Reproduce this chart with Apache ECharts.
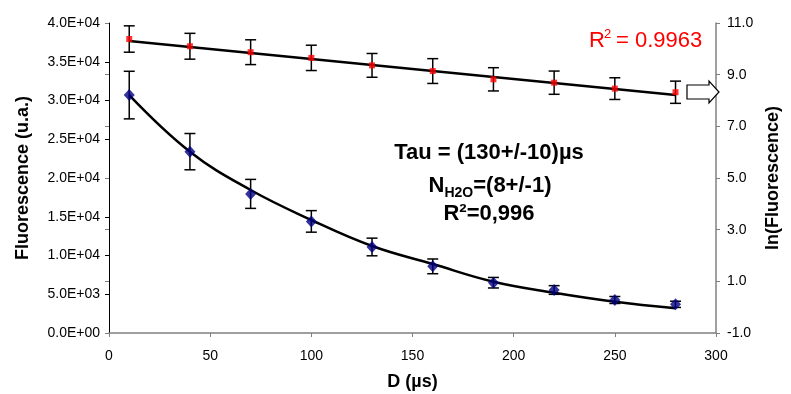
<!DOCTYPE html>
<html>
<head>
<meta charset="utf-8">
<script src="https://cdn.jsdelivr.net/npm/echarts@6/dist/echarts.min.js"></script>
<style>html,body{margin:0;padding:0;background:#fff;}#c{width:791px;height:394px;}</style>
</head>
<body>
<div id="c"></div>
<script>
// ---- data ----
const delays = [10, 40, 70, 100, 130, 160, 190, 220, 250, 280];           // D (µs)
const fluo = [30700, 23400, 17950, 14400, 11100, 8600, 6490, 5550, 4260, 3700];
const fluoErr = [3070, 2340, 1870, 1390, 1140, 950, 680, 560, 450, 400];
const fluoFit = [30700, 23400, 18450, 14580, 11225, 8900, 6620, 5200, 4040, 3190];
const lnFluo = [10.38, 10.10, 9.87, 9.65, 9.36, 9.14, 8.82, 8.69, 8.46, 8.32];
const lnErr = [0.51, 0.50, 0.48, 0.49, 0.46, 0.48, 0.45, 0.45, 0.42, 0.43];
const lnFitX = [10, 280];
const lnFit = [10.30, 8.21];
const xTicks = {min: 0, max: 300, interval: 50};
const leftTicks = {min: 0, max: 40000, interval: 5000};
const rightTicks = {min: -1, max: 11, interval: 2};

const FONT = '"Liberation Sans", Arial, sans-serif';

function sci(v) {
  if (v === 0) return '0.0E+00';
  const e = Math.floor(Math.log10(Math.abs(v)) + 1e-9);
  const m = v / Math.pow(10, e);
  const es = (e < 0 ? '-' : '+') + String(Math.abs(e)).padStart(2, '0');
  return m.toFixed(1) + 'E' + es;
}

function errorBarRenderer(cap) {
  return function (params, api) {
    const x = api.value(0), y = api.value(1), e = api.value(2);
    const top = api.coord([x, y + e]);
    const bot = api.coord([x, y - e]);
    const st = {stroke: '#000', lineWidth: 1.5};
    return {
      type: 'group',
      children: [
        {type: 'line', shape: {x1: top[0], y1: top[1], x2: bot[0], y2: bot[1]}, style: st},
        {type: 'line', shape: {x1: top[0] - cap, y1: top[1], x2: top[0] + cap, y2: top[1]}, style: st},
        {type: 'line', shape: {x1: bot[0] - cap, y1: bot[1], x2: bot[0] + cap, y2: bot[1]}, style: st}
      ]
    };
  };
}

const fluoPts = delays.map((d, i) => [d, fluo[i]]);
const fluoErrPts = delays.map((d, i) => [d, fluo[i], fluoErr[i]]);
const fluoFitPts = delays.map((d, i) => [d, fluoFit[i]]);
const lnPts = delays.map((d, i) => [d, lnFluo[i]]);
const lnErrPts = delays.map((d, i) => [d, lnFluo[i], lnErr[i]]);
const lnFitPts = lnFitX.map((d, i) => [d, lnFit[i]]);

const chart = echarts.init(document.getElementById('c'), null, {renderer: 'canvas'});
chart.setOption({
  animation: false,
  backgroundColor: '#fff',
  textStyle: {fontFamily: FONT},
  grid: {left: 109, right: 75, top: 23, bottom: 61, containLabel: false, outerBoundsMode: 'none'},
  xAxis: {
    type: 'value', min: xTicks.min, max: xTicks.max, interval: xTicks.interval,
    name: 'D (µs)', nameLocation: 'middle', nameGap: 40,
    nameTextStyle: {fontFamily: FONT, fontSize: 18, fontWeight: 'bold', color: '#000'},
    axisLine: {show: true, onZero: false, lineStyle: {color: '#808080', width: 1.5}},
    axisTick: {show: true, inside: false, length: 4, lineStyle: {color: '#808080'}},
    axisLabel: {fontFamily: FONT, fontSize: 14, color: '#000', margin: 16},
    splitLine: {show: false}
  },
  yAxis: [
    {
      type: 'value', position: 'left', min: leftTicks.min, max: leftTicks.max, interval: leftTicks.interval,
      name: 'Fluorescence (u.a.)', nameLocation: 'middle', nameGap: 77, nameRotate: 90,
      nameTextStyle: {fontFamily: FONT, fontSize: 18, fontWeight: 'bold', color: '#000'},
      axisLine: {show: true, onZero: false, lineStyle: {color: '#000', width: 1}},
      axisTick: {show: true, inside: false, length: 4, lineStyle: {color: '#000'}},
      axisLabel: {fontFamily: FONT, fontSize: 14, color: '#000', margin: 9, formatter: sci},
      splitLine: {show: false}
    },
    {
      type: 'value', position: 'right', min: rightTicks.min, max: rightTicks.max, interval: rightTicks.interval,
      name: 'ln(Fluorescence)', nameLocation: 'middle', nameGap: 38, nameRotate: 90,
      nameTextStyle: {fontFamily: FONT, fontSize: 18, fontWeight: 'bold', color: '#000'},
      axisLine: {show: true, onZero: false, lineStyle: {color: '#808080', width: 1.5}},
      axisTick: {show: true, inside: false, length: 4, lineStyle: {color: '#808080'}},
      axisLabel: {fontFamily: FONT, fontSize: 14, color: '#000', margin: 11, formatter: v => v.toFixed(1)},
      splitLine: {show: false}
    },
    {
      type: 'value', position: 'right', min: rightTicks.min, max: rightTicks.max, interval: rightTicks.interval,
      axisLine: {show: false}, axisLabel: {show: false},
      axisTick: {show: true, inside: true, length: 4, lineStyle: {color: '#808080'}},
      splitLine: {show: false}
    }
  ],
  series: [
    {
      type: 'line', yAxisIndex: 0, data: fluoFitPts, smooth: 0.4, showSymbol: false, symbol: 'none',
      lineStyle: {color: '#000', width: 2.5}, z: 2
    },
    {
      type: 'line', yAxisIndex: 1, data: lnFitPts, showSymbol: false, symbol: 'none',
      lineStyle: {color: '#000', width: 2.5}, z: 2
    },
    {
      type: 'custom', yAxisIndex: 0, data: fluoErrPts, renderItem: errorBarRenderer(5.5), z: 3
    },
    {
      type: 'custom', yAxisIndex: 1, data: lnErrPts, renderItem: errorBarRenderer(5.5), z: 3
    },
    {
      type: 'scatter', yAxisIndex: 0, data: fluoPts, symbol: 'diamond', symbolSize: [11, 12],
      itemStyle: {color: '#000080'}, z: 4
    },
    {
      type: 'scatter', yAxisIndex: 1, data: lnPts, symbol: 'rect', symbolSize: 6,
      itemStyle: {color: '#ff0000'}, z: 4
    }
  ],
  graphic: [
    {type: 'text', left: 589, top: 30, style: {text: 'R', font: '22px ' + FONT, fill: '#ff0000'}},
    {type: 'text', left: 604, top: 28, style: {text: '2', font: '13px ' + FONT, fill: '#ff0000'}},
    {type: 'text', left: 616, top: 30, style: {text: '= 0.9963', font: '22px ' + FONT, fill: '#ff0000'}},
    {type: 'text', x: 489, y: 164, style: {text: 'Tau = (130+/-10)µs', font: 'bold 22px ' + FONT, fill: '#000', align: 'center', verticalAlign: 'bottom'}},
    {type: 'text', x: 490, y: 197, style: {
      text: '{b|N}{s|H2O}{b|=(8+/-1)}', align: 'center', verticalAlign: 'bottom',
      rich: {
        b: {font: 'bold 22px ' + FONT, fill: '#000', verticalAlign: 'bottom'},
        s: {font: 'bold 14px ' + FONT, fill: '#000', verticalAlign: 'bottom', padding: [0, 0, -3, 0]}
      }
    }},
    {type: 'text', x: 489, y: 225, style: {text: 'R²=0,996', font: 'bold 22px ' + FONT, fill: '#000', align: 'center', verticalAlign: 'bottom'}},
    {type: 'polygon', shape: {points: [[687, 85], [709, 85], [709, 81], [719, 92], [709, 103], [709, 99], [687, 99]]},
      style: {fill: '#fff', stroke: '#000', lineWidth: 1.2}, z: 10}
  ]
});
</script>
</body>
</html>
